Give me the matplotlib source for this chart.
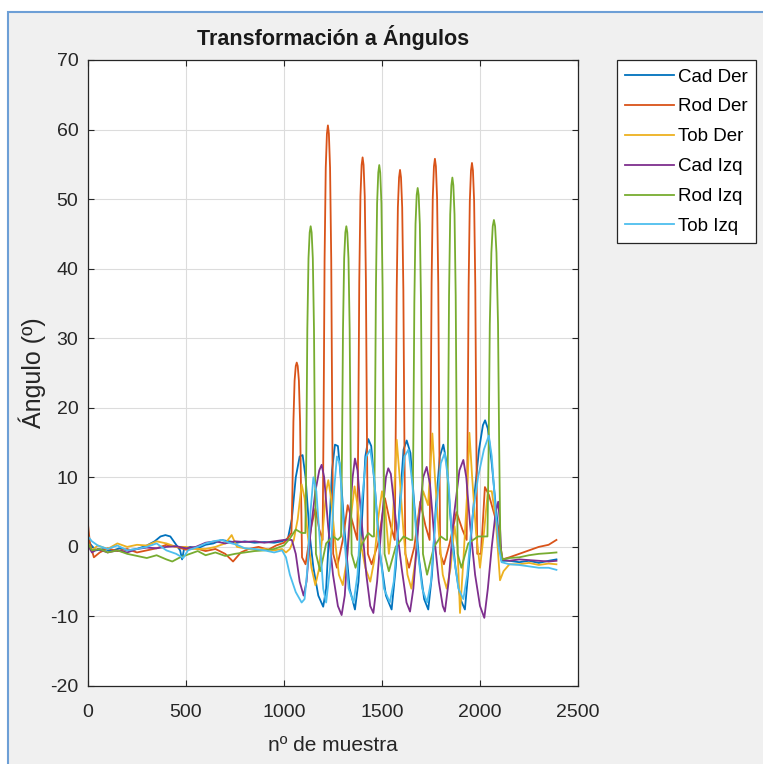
import matplotlib.pyplot as plt
from matplotlib.patches import Rectangle

plt.rcParams['font.family'] = ['Liberation Sans', 'DejaVu Sans']
plt.rcParams['axes.unicode_minus'] = False

# series keypoints (x = sample no., y = angle in degrees)
cad_der_x = [0, 15, 40, 80, 120, 160, 200, 250, 300, 340, 370, 395, 420, 445, 470, 480, 490, 520, 560,
             600, 640, 680, 720, 760, 800, 850, 900, 950, 990, 1020, 1040, 1060, 1080, 1095, 1110, 1130,
             1150, 1175, 1200, 1215, 1230, 1245, 1260, 1275, 1290, 1310, 1335, 1362, 1380, 1400, 1415,
             1430, 1445, 1465, 1490, 1520, 1549, 1570, 1595, 1610, 1626, 1645, 1665, 1690, 1715, 1736,
             1755, 1775, 1795, 1813, 1830, 1850, 1875, 1900, 1923, 1945, 1970, 1995, 2015, 2026, 2040,
             2060, 2080, 2095, 2110, 2150, 2200, 2250, 2300, 2350, 2390]
cad_der_y = [1.0, 0.3, -0.5, -0.3, -0.6, -0.2, -0.5, -0.3, 0.2, 0.8, 1.5, 1.7, 1.5, 0.5, -0.5, -1.8, -0.3,
             0.0, -0.2, 0.3, 0.5, 1.0, 0.8, 0.6, 0.8, 0.6, 0.7, 0.6, 0.8, 1.2, 4, 10, 13, 13.2, 10, 2,
             -3, -7, -8.6, -6, 2, 11, 14.7, 14.5, 10, 2, -6, -9, -5, 5, 13,
             15.5, 14.5, 8, -1, -7, -9, -3, 8, 14, 15.3, 13.5, 6, -2, -7.5, -9,
             -4, 6, 13, 14.7, 12, 4, -3, -7.5, -9, -2, 7, 14, 17.5, 18.2, 17,
             12, 6, 2, -2, -2, -2.2, -2, -2.3, -2, -1.8]

rod_der_x = [0, 10, 30, 60, 100, 150, 200, 250, 300, 350, 400, 450, 500, 550, 600, 650, 700, 740, 780,
             820, 870, 920, 960, 1000, 1025,
             1038, 1043, 1048, 1054, 1060, 1065, 1070, 1076, 1082, 1087, 1092,
             1110, 1140, 1160, 1180,
             1197, 1202, 1207, 1213, 1219, 1224, 1229, 1235, 1241, 1246, 1251,
             1270, 1300, 1325, 1350,
             1374, 1379, 1384, 1390, 1396, 1401, 1406, 1412, 1418, 1423, 1428,
             1447, 1480, 1515, 1545,
             1565, 1570, 1575, 1581, 1587, 1592, 1597, 1603, 1609, 1614, 1619,
             1638, 1665, 1695, 1722,
             1743, 1748, 1753, 1759, 1765, 1770, 1775, 1781, 1787, 1792, 1797,
             1816, 1845, 1880, 1910,
             1932, 1937, 1942, 1948, 1954, 1959, 1964, 1970, 1976, 1981, 1986,
             2005, 2025, 2045, 2070, 2090, 2105, 2115, 2150, 2200, 2250, 2300, 2350, 2390]
rod_der_y = [3.2, 0.5, -1.5, -0.8, -0.2, -0.6, -0.3, -0.8, -0.5, -0.2, 0.3, 0.0, -0.4, -0.2, -0.6, -0.3,
             -1.0, -2.1, -0.8, -0.3, 0.0, -0.4, 0.2, 0.6, 1.5,
             2.0, 8.0, 18.0, 23.9, 26.0, 26.5, 26.0, 23.9, 18.0, 8.0, -1.5,
             -2.5, 3, 5.5, 2.5,
             1.0, 18.2, 41.2, 54.5, 59.4, 60.6, 59.4, 54.5, 41.2, 18.2, -1.0,
             -3, 1, 6, 3.5,
             1.0, 16.8, 38.1, 50.4, 54.9, 56.0, 54.9, 50.4, 38.1, 16.8, -1.0,
             -2.5, 0.5, 7, 3,
             1.0, 16.3, 36.9, 48.8, 53.1, 54.2, 53.1, 48.8, 36.9, 16.3, -1.0,
             -3, 0, 6.5, 3,
             1.0, 16.7, 37.9, 50.2, 54.7, 55.8, 54.7, 50.2, 37.9, 16.7, -1.0,
             -2.5, 0.5, 5, 2.5,
             1.0, 16.6, 37.5, 49.7, 54.1, 55.2, 54.1, 49.7, 37.5, 16.6, -1.0,
             -1, 8.6, 7.5, 5, 3, 0, -1.8, -1.5, -1.0, -0.5, 0.0, 0.3, 1.0]

tob_der_x = [0, 20, 50, 100, 150, 200, 250, 300, 350, 400, 450, 500, 550, 600, 650, 700, 733, 760, 800,
             850, 900, 950, 990, 1010, 1030, 1050, 1070, 1090, 1105, 1120, 1140, 1160, 1180, 1200, 1215,
             1226, 1240, 1260, 1280, 1300, 1320, 1340, 1360, 1375, 1395, 1415, 1440, 1460, 1480, 1500,
             1515, 1535, 1555, 1575, 1590, 1610, 1630, 1650, 1670, 1690, 1710, 1735, 1757, 1770, 1790,
             1810, 1830, 1850, 1870, 1885, 1898, 1915, 1935, 1946, 1960, 1980, 2000, 2020, 2040, 2060,
             2080, 2095, 2102, 2120, 2150, 2200, 2250, 2300, 2350, 2390]
tob_der_y = [0.5, -0.5, 0.2, -0.3, 0.5, 0.0, 0.3, 0.2, 0.8, 0.5, 0.0, 0.0, -0.3, -0.3, 0.0, 0.5, 1.7, 0.0,
             -0.2, -0.4, -0.3, -0.5, -0.3, -0.8, -0.3, 1, 4, 9, 7, 2, -3, -5.5, -3, 3, 8,
             9.6, 7, 1, -4, -5.5, -2, 4, 8.7, 6, 0, -3, -5, -2, 4, 8,
             6, -1, 4, 15.4, 10, 2, -4, -6, -2, 5, 8, 6, 16.3, 10, 2,
             -4, -6, -3, 3, 0, -9.5, -2, 8, 16.4, 10, 2, -3, 2, 8, 8,
             4, -2, -4.8, -3.5, -2.5, -2.5, -2.3, -2.6, -2.4, -2.5]

cad_izq_x = [0, 20, 50, 100, 150, 200, 250, 300, 350, 400, 450, 500, 550, 600, 650, 700, 750, 800, 850,
             900, 950, 1000, 1040, 1060, 1080, 1100, 1115, 1135, 1160, 1180, 1192, 1205, 1225, 1250,
             1275, 1294, 1310, 1330, 1350, 1362, 1375, 1395, 1420, 1440, 1456, 1475, 1500, 1520, 1532,
             1545, 1570, 1600, 1625, 1643, 1660, 1685, 1710, 1728, 1745, 1765, 1790, 1810, 1821, 1840,
             1865, 1895, 1915, 1930, 1950, 1975, 2000, 2022, 2040, 2060, 2080, 2093, 2100, 2110, 2150,
             2200, 2250, 2300, 2350, 2390]
cad_izq_y = [0.2, -0.8, -0.3, -0.8, -0.5, -0.8, -0.3, -0.1, -0.2, 0.0, 0.1, -0.2, 0.0, 0.6, 0.8, 0.5, 0.8,
             0.7, 0.8, 0.6, 0.8, 1.0, 1.0, -1, -5, -7, -5, 2, 8, 11, 11.8, 10, 3, -4,
             -8.5, -9.8, -7, 2, 10, 12.7, 11, 4, -4, -8.5, -9.5, -5, 4, 10, 11.3,
             10.5, 4, -3, -8, -9.3, -6, 3, 10, 11.5, 9, 2, -5, -8.5, -9.3, -5,
             4, 11, 12.5, 10, 3, -4, -8.5, -10.2, -6, 0, 5, 6.5, 4, -1.8, -2,
             -1.8, -1.9, -2, -2.1, -2.0]

rod_izq_x = [0, 20, 60, 100, 150, 200, 250, 300, 350, 400, 430, 470, 520, 560, 600, 650, 700, 750, 800,
             850, 900, 950, 1000, 1030, 1060, 1090,
             1109, 1114, 1119, 1125, 1131, 1136, 1141, 1147, 1153, 1158, 1163,
             1185, 1215, 1250, 1275,
             1291, 1296, 1301, 1307, 1313, 1318, 1323, 1329, 1335, 1340, 1345,
             1365, 1400, 1430, 1450,
             1459, 1464, 1469, 1475, 1481, 1486, 1491, 1497, 1503, 1508, 1513,
             1535, 1570, 1610, 1645,
             1655, 1660, 1665, 1671, 1677, 1682, 1687, 1693, 1699, 1704, 1709,
             1730, 1765, 1800, 1825,
             1832, 1837, 1842, 1848, 1854, 1859, 1864, 1870, 1876, 1881, 1886,
             1905, 1940, 1990, 2030,
             2038, 2044, 2050, 2058, 2065, 2071, 2077, 2084, 2092, 2098, 2104,
             2115, 2150, 2200, 2250, 2300, 2350, 2390]
rod_izq_y = [0.5, -0.5, -0.3, -0.8, -0.5, -1.0, -1.3, -1.6, -1.2, -1.8, -2.1, -1.5, -1.0, -0.6, -1.2,
             -0.8, -1.3, -1.0, -0.8, -0.6, -0.5, -0.3, 0.2, 1.2, 2.5, 2.0,
             2.0, 13.8, 31.3, 41.5, 45.2, 46.1, 45.2, 41.5, 31.3, 13.8, -1.0,
             -3.5, 0.5, 1.5, 1.0,
             1.5, 13.8, 31.3, 41.5, 45.2, 46.1, 45.2, 41.5, 31.3, 13.8, -1.0,
             -3, 0.5, 2, 1.5,
             1.5, 16.5, 37.3, 49.4, 53.8, 54.9, 53.8, 49.4, 37.3, 16.5, -1.0,
             -3.5, 0, 1.5, 1,
             1.0, 15.5, 35.1, 46.4, 50.6, 51.6, 50.6, 46.4, 35.1, 15.5, -1.0,
             -4, 0, 1.5, 1,
             1.0, 15.9, 36.1, 47.8, 52.0, 53.1, 52.0, 47.8, 36.1, 15.9, -1.0,
             -3, 0.5, 1.5, 1.5,
             1.5, 14.1, 32.0, 42.3, 46.1, 47.0, 46.1, 42.3, 32.0, 14.1, 0.0,
             -1.8, -1.6, -1.5, -1.2, -1.0, -0.9, -0.8]

tob_izq_x = [0, 20, 50, 100, 150, 200, 250, 300, 350, 400, 450, 486, 510, 560, 600, 640, 680, 720, 760,
             800, 850, 900, 950, 990, 1010, 1030, 1060, 1090, 1105, 1120, 1135, 1150, 1165, 1185, 1200,
             1215, 1235, 1255, 1270, 1285, 1305, 1330, 1355, 1375, 1395, 1420, 1440, 1460, 1480, 1510,
             1540, 1560, 1590, 1615, 1635, 1655, 1680, 1705, 1730, 1750, 1775, 1800, 1820, 1840, 1860,
             1890, 1915, 1935, 1960, 1990, 2020, 2045, 2060, 2080, 2095, 2110, 2150, 2200, 2250, 2300,
             2350, 2390]
tob_izq_y = [1.5, 0.8, 0.2, -0.3, 0.2, -0.5, -0.3, 0.0, 0.5, -0.5, -1.0, -1.6, -0.5, 0.0, 0.5, 0.8, 1.0,
             0.6, 0.3, -0.2, -0.3, -0.5, -0.8, -0.5, -1.5, -4, -6.5, -8, -7.5, -3, 5, 10, 8, 0, -6,
             -8, -3, 8, 13, 12, 2, -6, -8, -4, 6, 13, 14, 10, 2, -6,
             -8, -5, 5, 13, 14, 9, 0, -6, -8, -5, 5, 12, 13.5, 9, 0,
             -6, -7.5, -4, 4, 10, 14, 16, 13, 5, 0, -2.2, -2.5, -2.6, -2.8, -3,
             -3, -3.3]

series = [
    ('Cad Der', cad_der_x, cad_der_y, '#0072BD'),
    ('Rod Der', rod_der_x, rod_der_y, '#D95319'),
    ('Tob Der', tob_der_x, tob_der_y, '#EDB120'),
    ('Cad Izq', cad_izq_x, cad_izq_y, '#7E2F8E'),
    ('Rod Izq', rod_izq_x, rod_izq_y, '#77AC30'),
    ('Tob Izq', tob_izq_x, tob_izq_y, '#4DBEEE'),
]

fig = plt.figure(figsize=(7.63, 7.64), dpi=100, facecolor='white')
# window frame like the screenshot
fig.patches.append(Rectangle((8 / 763, -0.01), 1.0, 1 - 12 / 764 + 0.01, transform=fig.transFigure,
                             facecolor='#f0f0f0', edgecolor='#6d9fd6', linewidth=1.5, zorder=-10))

ax = fig.add_axes([88 / 763, 1 - 686 / 764, 490 / 763, 626 / 764])
for name, xs, ys, col in series:
    ax.plot(xs, ys, color=col, linewidth=1.3, label=name)

ax.set_xlim(0, 2500)
ax.set_ylim(-20, 70)
ax.set_xticks(range(0, 2501, 500))
ax.set_yticks(range(-20, 71, 10))
ax.grid(True, color='#dcdcdc', linewidth=0.8)
ax.set_axisbelow(True)
ax.tick_params(direction='in', top=True, right=True, length=4, width=0.8, colors='#262626',
               labelsize=14)
ax.tick_params(axis='y', pad=7)
ax.tick_params(axis='x', pad=13)
for s in ax.spines.values():
    s.set_color('#262626')
    s.set_linewidth(0.9)

ax.set_xlabel('nº de muestra', fontsize=15, color='#262626', labelpad=11)
ax.set_ylabel('Ángulo (º)', fontsize=18, color='#262626', labelpad=3)
fig.text(333 / 763, 1 - 38 / 764, 'Transformación a Ángulos', ha='center', va='center',
         fontsize=15.5, fontweight='bold', color='#1a1a1a')

leg = ax.legend(loc='upper left', bbox_to_anchor=(617 / 763, 1 - 60 / 764), bbox_transform=fig.transFigure,
                borderaxespad=0, fontsize=13.5, frameon=True, fancybox=False, framealpha=1,
                edgecolor='#262626', handlelength=2.6, handletextpad=0.2, borderpad=0.45,
                labelspacing=0.68)
leg.get_frame().set_linewidth(0.9)

fig.savefig('out.png', dpi=100, facecolor=fig.get_facecolor())
